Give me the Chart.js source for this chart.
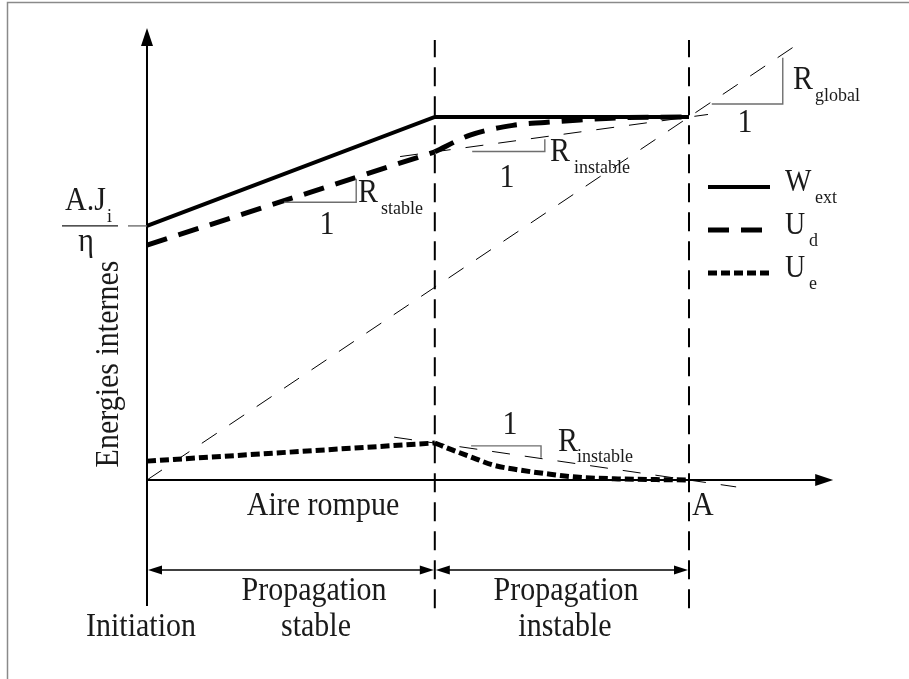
<!DOCTYPE html>
<html><head><meta charset="utf-8">
<script src="https://cdn.jsdelivr.net/npm/chart.js@4.4.1/dist/chart.umd.min.js"></script>
<style>html,body{margin:0;padding:0;background:#fff;}canvas{display:block;}</style>
</head><body>
<canvas id="c" width="909" height="679"></canvas>
<script>
// ---- data (x: aire rompue, 0 = origin, 10 = A ; y: energies, 10 = W_ext plateau) ----
const xOnset = 5.31;          // onset of unstable propagation
const xA = 10;                // final broken area A
const yTickValue = 7.0;       // A.J_i / eta
const wExtX = [0, 5.31, 10];
const wExtY = [7.0, 10, 10];
const udStableX = [0, 5.31];
const udStableY = [6.47, 9.04];
const udInstX = [5.31, 5.96, 6.75, 7.34, 7.99, 8.73, 10];
const udInstY = [9.04, 9.50, 9.77, 9.85, 9.92, 9.98, 10];
const ueStableX = [0, 5.31];
const ueStableY = [0.52, 1.02];
const ueInstX = [5.31, 5.63, 6.02, 6.39, 6.85, 7.38, 7.92, 8.69, 10];
const ueInstY = [1.02, 0.83, 0.61, 0.41, 0.28, 0.17, 0.08, 0.03, 0];
// construction lines
const globalX = [0, 12];
const globalY = [0, 12];
const udSecantX = [4.67, 10.35];
const udSecantY = [8.91, 10.07];
const ueSecantX = [4.56, 10.87];
const ueSecantY = [1.18, -0.19];
// slope triangles
const triStableX = [2.53, 3.86, 3.86];
const triStableY = [7.65, 7.65, 8.30];
const triInstTopX = [6.0, 7.34, 7.34];
const triInstTopY = [9.05, 9.05, 9.39];
const triGlobalX = [10.42, 11.73, 11.73];
const triGlobalY = [10.36, 10.36, 11.63];
const triInstBotX = [5.98, 7.27, 7.27];
const triInstBotY = [0.94, 0.94, 0.61];
// vertical guide range
const guideY = [-3.53, 12.12];
// axis extents
const axisYRange = [-3.47, 12.45];
const axisXEnd = 12.66;
const spanArrowY = -2.48;
const seriesNames = ['W', 'U', 'U'];
const seriesSubs = ['ext', 'd', 'e'];

const pts = (xs, ys) => xs.map((v, i) => ({x: v, y: ys[i]}));
const line = (data, o) => Object.assign({data, showLine: true, pointRadius: 0, borderColor: '#000',
  backgroundColor: '#000', fill: false, tension: 0, borderWidth: 1, clip: false}, o);

const thinDash = [18, 15];
const guideDash = [19, 10];
const datasets = [
  line(pts([xOnset, xOnset], guideY), {borderWidth: 2, borderDash: guideDash}),
  line(pts([xA, xA], guideY), {borderWidth: 2, borderDash: guideDash}),
  line(pts(globalX, globalY), {borderDash: thinDash}),
  line(pts(udSecantX, udSecantY), {borderDash: thinDash}),
  line(pts(ueSecantX, ueSecantY), {borderDash: thinDash}),
  line(pts(triStableX, triStableY), {borderColor: '#6e6e6e', borderWidth: 1.4}),
  line(pts(triInstTopX, triInstTopY), {borderColor: '#6e6e6e', borderWidth: 1.4}),
  line(pts(triGlobalX, triGlobalY), {borderColor: '#6e6e6e', borderWidth: 1.4}),
  line(pts(triInstBotX, triInstBotY), {borderColor: '#6e6e6e', borderWidth: 1.4}),
  line(pts(wExtX, wExtY), {borderWidth: 4}),
  line(pts(udStableX, udStableY), {borderWidth: 5, borderDash: [21, 12]}),
  line(pts(udInstX, udInstY), {borderWidth: 5, borderDash: [21, 12], cubicInterpolationMode: 'monotone'}),
  line(pts(ueStableX, ueStableY), {borderWidth: 5, borderDash: [9, 4]}),
  line(pts(ueInstX, ueInstY), {borderWidth: 5, borderDash: [9, 4], cubicInterpolationMode: 'monotone'})
];

const SERIF = '"Liberation Serif", "Times New Roman", serif';
function txt(ctx, s, x, y, size, align) {
  ctx.save();
  ctx.font = size + 'px ' + SERIF;
  ctx.textAlign = align || 'left';
  ctx.textBaseline = 'alphabetic';
  ctx.fillStyle = '#1a1a1a';
  ctx.translate(x, y);
  ctx.scale(1, 1.1);
  ctx.fillText(s, 0, 0);
  ctx.restore();
}
function arrowHead(ctx, tx, ty, dx, dy, len, hw) {
  const px = -dy, py = dx;
  ctx.beginPath();
  ctx.moveTo(tx, ty);
  ctx.lineTo(tx - dx * len + px * hw, ty - dy * len + py * hw);
  ctx.lineTo(tx - dx * len - px * hw, ty - dy * len - py * hw);
  ctx.closePath();
  ctx.fill();
}

const overlay = {
  id: 'overlay',
  beforeDatasetsDraw(chart) {
    const {ctx, scales: {x, y}} = chart;
    ctx.save();
    // frame
    ctx.strokeStyle = '#8a8a8a'; ctx.lineWidth = 1.5;
    ctx.beginPath(); ctx.moveTo(7.5, 679); ctx.lineTo(7.5, 2.5); ctx.lineTo(909, 2.5); ctx.stroke();
    const x0 = x.getPixelForValue(0), y0 = y.getPixelForValue(0);
    ctx.strokeStyle = '#000'; ctx.fillStyle = '#000'; ctx.lineWidth = 2;
    const yTop = y.getPixelForValue(axisYRange[1]);
    const xEnd = x.getPixelForValue(axisXEnd);
    ctx.beginPath();
    ctx.moveTo(x0, y.getPixelForValue(axisYRange[0])); ctx.lineTo(x0, yTop + 10);
    ctx.moveTo(x0 - 1, y0); ctx.lineTo(xEnd - 10, y0);
    ctx.stroke();
    arrowHead(ctx, x0, yTop, 0, -1, 18, 6);
    arrowHead(ctx, xEnd, y0, 1, 0, 18, 6);
    // span arrows
    const ya = y.getPixelForValue(spanArrowY);
    const xs = [x0, x.getPixelForValue(xOnset), x.getPixelForValue(xA)];
    ctx.lineWidth = 1.5;
    for (let i = 0; i < 2; i++) {
      ctx.beginPath(); ctx.moveTo(xs[i] + 8, ya); ctx.lineTo(xs[i + 1] - 8, ya); ctx.stroke();
      arrowHead(ctx, xs[i] + 1, ya, -1, 0, 14, 4.5);
      arrowHead(ctx, xs[i + 1] - 1, ya, 1, 0, 14, 4.5);
    }
    // y tick for A.J_i/eta
    const yt = y.getPixelForValue(yTickValue);
    ctx.strokeStyle = '#6e6e6e'; ctx.lineWidth = 1.4;
    ctx.beginPath(); ctx.moveTo(x0 - 19, yt); ctx.lineTo(x0, yt); ctx.stroke();
    ctx.strokeStyle = '#1a1a1a'; ctx.lineWidth = 1.2;
    ctx.beginPath(); ctx.moveTo(62, yt); ctx.lineTo(118, yt); ctx.stroke();
    ctx.restore();
  },
  afterDatasetsDraw(chart) {
    const {ctx} = chart;
    ctx.save();
    // fraction label
    txt(ctx, 'A.J', 65, 210, 30);
    txt(ctx, 'i', 107, 222, 18);
    txt(ctx, 'η', 86, 251, 30, 'center');
    // axis title
    ctx.save();
    ctx.translate(118, 364); ctx.rotate(-Math.PI / 2);
    ctx.font = '30px ' + SERIF; ctx.textAlign = 'center'; ctx.fillStyle = '#1a1a1a';
    ctx.scale(1, 1.1);
    ctx.fillText('Energies internes', 0, 0);
    ctx.restore();
    txt(ctx, 'Aire rompue', 323, 515, 30, 'center');
    txt(ctx, 'A', 692, 515, 30);
    txt(ctx, 'Propagation', 314, 600, 30, 'center');
    txt(ctx, 'stable', 316, 636, 30, 'center');
    txt(ctx, 'Propagation', 566, 600, 30, 'center');
    txt(ctx, 'instable', 565, 636, 30, 'center');
    txt(ctx, 'Initiation', 141, 636, 30, 'center');
    // slope labels
    txt(ctx, 'R', 358, 202, 30); txt(ctx, 'stable', 381, 214, 18); txt(ctx, '1', 327, 234, 30, 'center');
    txt(ctx, 'R', 550, 161, 30); txt(ctx, 'instable', 574, 173, 18); txt(ctx, '1', 507, 187, 30, 'center');
    txt(ctx, 'R', 793, 89, 30); txt(ctx, 'global', 815, 101, 18); txt(ctx, '1', 745, 132, 30, 'center');
    txt(ctx, 'R', 558, 451, 30); txt(ctx, 'instable', 577, 462, 18); txt(ctx, '1', 510, 434, 30, 'center');
    // legend
    const ly = [187, 230, 273];
    const dashes = [[], [21, 12], [9, 4]];
    const widths = [4, 5, 5];
    for (let i = 0; i < 3; i++) {
      ctx.strokeStyle = '#000'; ctx.lineWidth = widths[i]; ctx.setLineDash(dashes[i]);
      ctx.beginPath(); ctx.moveTo(708, ly[i]); ctx.lineTo(770, ly[i]); ctx.stroke();
      ctx.setLineDash([]);
      txt(ctx, seriesNames[i], 785, ly[i] + 4, 28);
      txt(ctx, seriesSubs[i], i === 0 ? 815 : 809, ly[i] + 16, 18);
    }
    ctx.restore();
  }
};

const X_MIN = -2.712, X_MAX = 14.059, Y_MIN = -5.482, Y_MAX = 13.223;
new Chart(document.getElementById('c'), {
  type: 'scatter',
  data: {datasets},
  options: {
    responsive: false, animation: false, devicePixelRatio: 1,
    layout: {padding: 0},
    plugins: {legend: {display: false}, tooltip: {enabled: false}},
    scales: {
      x: {type: 'linear', min: X_MIN, max: X_MAX, display: false},
      y: {type: 'linear', min: Y_MIN, max: Y_MAX, display: false}
    }
  },
  plugins: [overlay]
});
</script>
</body></html>
